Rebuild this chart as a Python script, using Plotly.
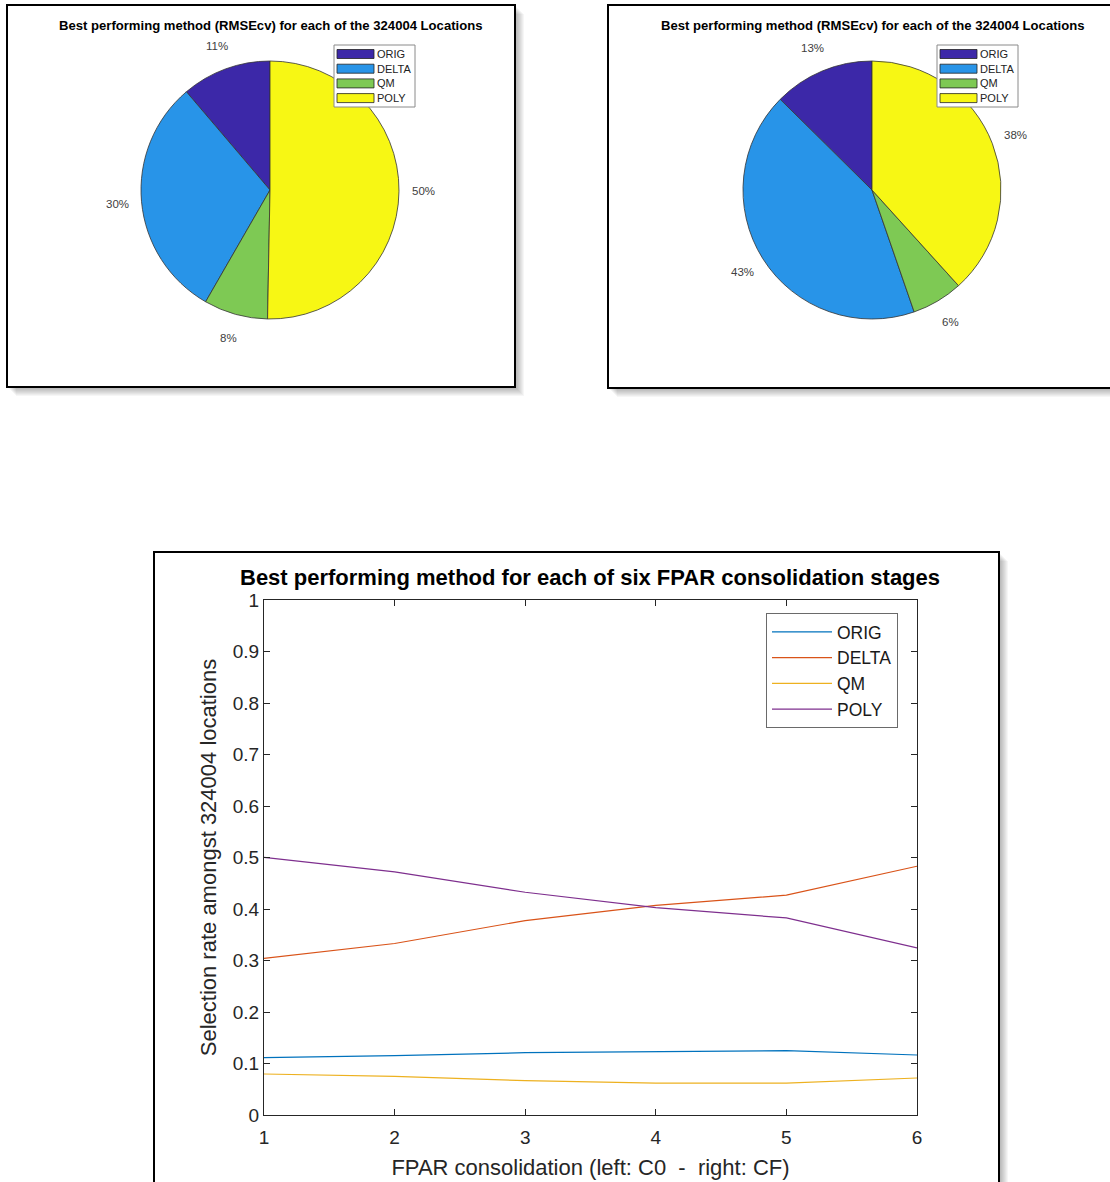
import math
import plotly.graph_objects as go

W, H = 1110, 1182

# ---------------- data ----------------
methods = ["ORIG", "DELTA", "QM", "POLY"]
pie_colors = ["#3c28a8", "#2894e8", "#7ec954", "#f7f714"]
line_colors = ["#0072BD", "#D95319", "#EDB120", "#7E2F8E"]

pie1_values = [0.112, 0.304, 0.080, 0.502]
pie2_values = [0.126, 0.427, 0.064, 0.383]

stages = [1, 2, 3, 4, 5, 6]
orig = [0.1115, 0.1153, 0.1210, 0.1237, 0.1250, 0.1165]
delta = [0.3040, 0.3330, 0.3775, 0.4070, 0.4270, 0.4830]
qm = [0.0796, 0.0750, 0.0667, 0.0620, 0.0620, 0.0718]
poly = [0.5004, 0.4720, 0.4325, 0.4027, 0.3826, 0.3243]
series = [orig, delta, qm, poly]

pie_title = "Best performing method (RMSEcv) for each of the 324004 Locations"
line_title = "Best performing method for each of six FPAR consolidation stages"
xlabel = "FPAR consolidation (left: C0  -  right: CF)"
ylabel = "Selection rate amongst 324004 locations"

FONT = "Liberation Sans, Arial, sans-serif"


def px(x):
    return x / W


def py(y):
    return 1 - y / H


fig = go.Figure()
annotations = []

# ---------------- pies (MATLAB style: start at 12 o'clock, counterclockwise) ----------------
pie_centers = [270, 872]
PIE_CY, PIE_R = 190, 129
for vals, cx in zip([pie1_values, pie2_values], pie_centers):
    total = sum(vals)
    first_angle = 360.0 * vals[0] / total
    fig.add_trace(go.Pie(
        labels=methods, values=vals, sort=False, direction="counterclockwise",
        rotation=-first_angle,
        marker=dict(colors=pie_colors, line=dict(color="#333333", width=0.8)),
        textinfo="none",
        domain=dict(x=[px(cx - PIE_R), px(cx + PIE_R)], y=[py(PIE_CY + PIE_R), py(PIE_CY - PIE_R)]),
        hoverinfo="label+percent", showlegend=False,
    ))
    # MATLAB-style percentage labels, placed outside each slice at its mid-angle
    cum = 0.0
    for v in vals:
        mid = (cum + v / 2) / total * 2 * math.pi  # counterclockwise from 12 o'clock
        cum += v
        lx = cx - 1.19 * PIE_R * math.sin(mid)
        ly = PIE_CY - 1.19 * PIE_R * math.cos(mid)
        annotations.append(dict(text=f"{round(100 * v / total)}%", x=px(lx), y=py(ly),
                                xref="paper", yref="paper", showarrow=False,
                                xanchor="center", yanchor="middle",
                                font=dict(family=FONT, size=11.5, color="#404040")))

# ---------------- lines ----------------
for name, ys, col in zip(methods, series, line_colors):
    fig.add_trace(go.Scatter(
        x=stages, y=ys, mode="lines", name=name,
        line=dict(color=col, width=1.2),
        xaxis="x", yaxis="y",
    ))

# ---------------- shapes: panel boxes with drop shadows ----------------
shapes = []
boxes = [(7, 5, 515, 387), (608, 5, 1130, 388), (154, 552, 999, 1200)]
for (x0, y0, x1, y1) in boxes:
    for k in range(1, 10):
        shapes.append(dict(type="rect", xref="paper", yref="paper",
                           x0=px(x0 + k), x1=px(x1 + k), y0=py(y1 + k), y1=py(y0 + k),
                           fillcolor="rgba(0,0,0,0.035)", line=dict(width=0), layer="below"))
for (x0, y0, x1, y1) in boxes:
    shapes.append(dict(type="rect", xref="paper", yref="paper",
                       x0=px(x0), x1=px(x1), y0=py(y1), y1=py(y0),
                       fillcolor="white", line=dict(color="black", width=2), layer="below"))

for cx in pie_centers:
    annotations.append(dict(text="<b>" + pie_title + "</b>", x=px(cx), y=py(25),
                            xref="paper", yref="paper", showarrow=False,
                            font=dict(family=FONT, size=13.1, color="#000000"),
                            xanchor="center", yanchor="middle"))
annotations.append(
    dict(text="<b>" + line_title + "</b>", x=px(590), y=py(577), xref="paper", yref="paper",
         showarrow=False, font=dict(family=FONT, size=22, color="#000000"),
         xanchor="center", yanchor="middle"))

# ---------------- pie legends (MATLAB style wide swatches) ----------------
for (lx, ly) in [(334, 45), (937, 45)]:
    shapes.append(dict(type="rect", xref="paper", yref="paper",
                       x0=px(lx), x1=px(lx + 81), y0=py(ly + 62), y1=py(ly),
                       fillcolor="white", line=dict(color="#8a8a8a", width=1), layer="above"))
    for i, (m, c) in enumerate(zip(methods, pie_colors)):
        cy = ly + 9 + i * 14.7
        shapes.append(dict(type="rect", xref="paper", yref="paper",
                           x0=px(lx + 3), x1=px(lx + 40), y0=py(cy + 4.5), y1=py(cy - 4.5),
                           fillcolor=c, line=dict(color="#222222", width=0.8), layer="above"))
        annotations.append(dict(text=m, x=px(lx + 41), y=py(cy), xref="paper", yref="paper",
                                showarrow=False, xanchor="left", yanchor="middle",
                                font=dict(family=FONT, size=11, color="#222222")))

axis_common = dict(showline=True, linecolor="#262626", linewidth=1, mirror="ticks",
                   ticks="inside", ticklen=6, tickcolor="#262626", tickwidth=1,
                   showgrid=False, zeroline=False, automargin=False,
                   tickfont=dict(family=FONT, size=19, color="#262626"))

fig.update_layout(
    width=W, height=H, margin=dict(l=0, r=0, t=0, b=0, autoexpand=False),
    paper_bgcolor="white", plot_bgcolor="white",
    font=dict(family=FONT),
    shapes=shapes, annotations=annotations,
    xaxis=dict(domain=[px(264), px(917)], range=[1, 6], tickvals=stages,
               ticklabelstandoff=5,
               title=dict(text=xlabel, font=dict(family=FONT, size=22, color="#262626"), standoff=12),
               anchor="y", **axis_common),
    yaxis=dict(domain=[py(1115), py(600)], range=[0, 1], dtick=0.1,
               title=dict(text=ylabel, font=dict(family=FONT, size=22, color="#262626"), standoff=10),
               anchor="x", **axis_common),
    showlegend=True,
    legend=dict(x=px(766), y=py(613), xanchor="left", yanchor="top", bgcolor="white",
                bordercolor="#6a6a6a", borderwidth=1, itemwidth=60,
                font=dict(family=FONT, size=17.5, color="#1a1a1a"), tracegroupgap=0),
)

fig.write_html("out.html", config={"displayModeBar": False},
               post_script="document.body.style.margin='0';")
